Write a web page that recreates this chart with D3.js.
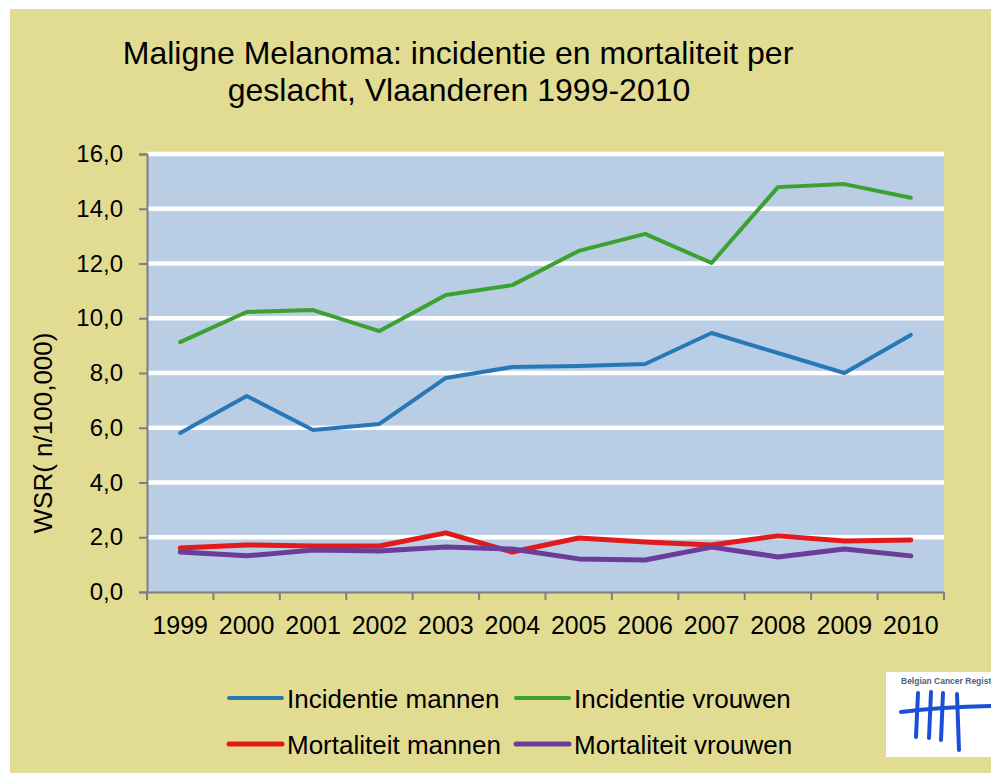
<!DOCTYPE html>
<html>
<head>
<meta charset="utf-8">
<script src="https://cdn.jsdelivr.net/npm/d3@7"></script>
<style>
  body { margin: 0; background: #ffffff; }
  svg text { font-family: "Liberation Sans", Arial, sans-serif; fill: #000; }
</style>
</head>
<body>
<div id="chart"></div>
<script>
var years = ['1999','2000','2001','2002','2003','2004','2005','2006','2007','2008','2009','2010'];
var y_ticks = [0, 2, 4, 6, 8, 10, 12, 14, 16];

var inc_mannen = [5.81, 7.16, 5.92, 6.14, 7.82, 8.22, 8.26, 8.33, 9.46, 8.73, 8.00, 9.39];
var inc_vrouwen = [9.13, 10.23, 10.30, 9.53, 10.85, 11.21, 12.46, 13.08, 12.02, 14.79, 14.90, 14.40];
var mort_mannen = [1.61, 1.72, 1.68, 1.68, 2.16, 1.46, 1.97, 1.83, 1.72, 2.05, 1.86, 1.90];
var mort_vrouwen = [1.46, 1.32, 1.53, 1.50, 1.64, 1.57, 1.21, 1.17, 1.64, 1.28, 1.57, 1.32];

var series = [
  {name: 'Incidentie mannen', values: inc_mannen, color: '#2878b8', width: 4},
  {name: 'Incidentie vrouwen', values: inc_vrouwen, color: '#3ba22f', width: 4},
  {name: 'Mortaliteit mannen', values: mort_mannen, color: '#e31a1c', width: 5},
  {name: 'Mortaliteit vrouwen', values: mort_vrouwen, color: '#6a3d9a', width: 5}
];

var W = 991, H = 773;
var plot = {left: 147, right: 944, top: 154, bottom: 592};

var svg = d3.select('#chart').append('svg')
    .attr('width', W)
    .attr('height', H);

// page background (white strip top/left like the slide crop)
svg.append('rect').attr('x', 0).attr('y', 0).attr('width', W).attr('height', H).attr('fill', '#ffffff');
svg.append('rect').attr('x', 10).attr('y', 9).attr('width', W - 10).attr('height', H - 9).attr('fill', '#e2dc92');

// title
var title = svg.append('text')
    .attr('text-anchor', 'middle')
    .style('font-size', '32px');
title.append('tspan').attr('x', 458).attr('y', 64).text('Maligne Melanoma: incidentie en mortaliteit per');
title.append('tspan').attr('x', 459).attr('y', 101).text('geslacht, Vlaanderen 1999-2010');

var x = d3.scaleBand().domain(years).range([plot.left, plot.right]);
var y = d3.scaleLinear().domain([0, 16]).range([plot.bottom, plot.top]);

// plot area
svg.append('rect')
    .attr('x', plot.left)
    .attr('y', plot.top)
    .attr('width', plot.right - plot.left)
    .attr('height', plot.bottom - plot.top)
    .attr('fill', '#b9cde4');

// gridlines
svg.append('g')
    .selectAll('line')
    .data(y_ticks.filter(function(d){ return d > 0; }))
    .enter().append('line')
    .attr('x1', plot.left)
    .attr('x2', plot.right)
    .attr('y1', function(d){ return y(d); })
    .attr('y2', function(d){ return y(d); })
    .attr('stroke', '#ffffff')
    .attr('stroke-width', 4.5);

// y axis
var y_axis = svg.append('g')
    .attr('transform', 'translate(' + plot.left + ',0)')
    .call(d3.axisLeft(y).tickValues(y_ticks).tickSize(8).tickPadding(16)
        .tickFormat(function(d){ return d3.format('.1f')(d).replace('.', ','); }));
y_axis.select('.domain').attr('stroke', '#7f7f7f').attr('stroke-width', 2);
y_axis.selectAll('.tick line').attr('stroke', '#7f7f7f').attr('stroke-width', 2);
y_axis.selectAll('.tick text')
    .style('font-size', '24px')
    .style('font-family', '"Liberation Sans", Arial, sans-serif')
    .attr('fill', '#000');

// x axis: ticks between categories
var x_axis = svg.append('g')
    .attr('transform', 'translate(0,' + plot.bottom + ')')
    .call(d3.axisBottom(x).tickSize(0).tickPadding(24));
x_axis.select('.domain').attr('stroke', '#7f7f7f').attr('stroke-width', 2);
x_axis.selectAll('.tick text')
    .style('font-size', '25px')
    .style('font-family', '"Liberation Sans", Arial, sans-serif')
    .attr('fill', '#000');
x_axis.selectAll('.bound')
    .data(d3.range(years.length + 1))
    .enter().append('line')
    .attr('x1', function(i){ return plot.left + i * x.step(); })
    .attr('x2', function(i){ return plot.left + i * x.step(); })
    .attr('y1', 0)
    .attr('y2', 8)
    .attr('stroke', '#7f7f7f')
    .attr('stroke-width', 2);

// y label
svg.append('text')
    .attr('transform', 'translate(52,433) rotate(-90)')
    .attr('text-anchor', 'middle')
    .style('font-size', '26px')
    .text('WSR( n/100,000)');

// lines
var line = d3.line()
    .x(function(d, i){ return x(years[i]) + x.bandwidth() / 2; })
    .y(function(d){ return y(d); });

svg.append('g')
    .selectAll('path')
    .data(series)
    .enter().append('path')
    .attr('d', function(d){ return line(d.values); })
    .attr('fill', 'none')
    .attr('stroke', function(d){ return d.color; })
    .attr('stroke-width', function(d){ return d.width; })
    .attr('stroke-linejoin', 'round')
    .attr('stroke-linecap', 'round');

// legend
var legend_pos = [[229, 698], [516, 698], [229, 744], [516, 744]];
var legend = svg.append('g');
series.forEach(function(s, i){
  var p = legend_pos[i];
  legend.append('line')
      .attr('x1', p[0]).attr('x2', p[0] + 53)
      .attr('y1', p[1]).attr('y2', p[1])
      .attr('stroke', s.color)
      .attr('stroke-width', s.width)
      .attr('stroke-linecap', 'round');
  legend.append('text')
      .attr('x', p[0] + 58)
      .attr('y', p[1] + 10)
      .style('font-size', '26px')
      .text(s.name);
});

// logo
var logo = svg.append('g');
logo.append('rect').attr('x', 886).attr('y', 672).attr('width', 105).attr('height', 85).attr('fill', '#ffffff');
logo.append('text')
    .attr('x', 901).attr('y', 684)
    .style('font-size', '8.5px')
    .style('font-weight', 'bold')
    .style('fill', '#4a5f80')
    .text('Belgian Cancer Regist');
var strokes = [
  'M918,693 L916,737', 'M931,692 L929,738', 'M943,693 L941,740', 'M957,694 L959,750',
  'M901,712 Q940,707 991,706'
];
logo.selectAll('path')
    .data(strokes)
    .enter().append('path')
    .attr('d', function(d){ return d; })
    .attr('fill', 'none')
    .attr('stroke', '#1c4fd8')
    .attr('stroke-width', 4)
    .attr('stroke-linecap', 'round');
</script>
</body>
</html>
